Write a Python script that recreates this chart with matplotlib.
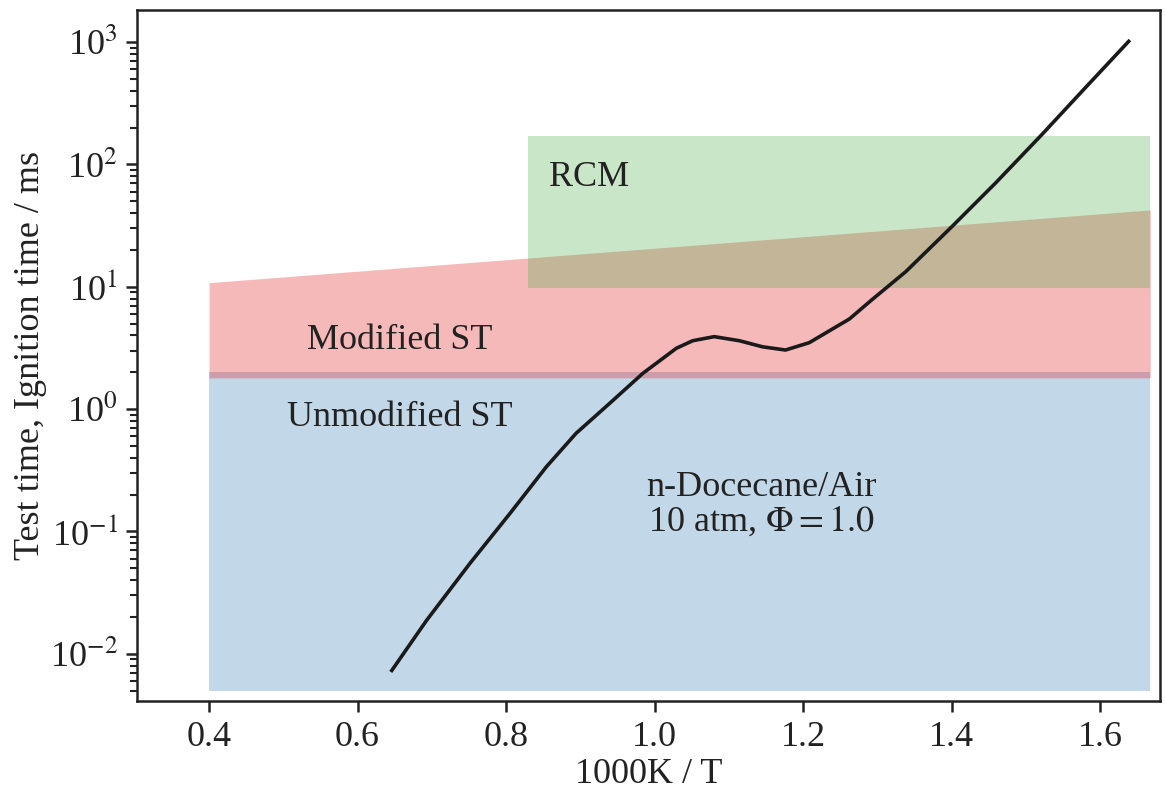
import matplotlib
matplotlib.use('Agg')
import matplotlib.pyplot as plt
from matplotlib.ticker import FuncFormatter, LogLocator
import numpy as np

plt.rcParams['font.family'] = ['Liberation Serif', 'DejaVu Serif']
plt.rcParams['mathtext.fontset'] = 'stix'

# ignition delay curve
inv_T = [0.646, 0.693, 0.751, 0.805, 0.854, 0.894, 0.939, 0.984, 1.029, 1.051,
         1.080, 1.114, 1.145, 1.176, 1.208, 1.262, 1.292, 1.338, 1.400, 1.459,
         1.521, 1.575, 1.638]
tau_ms = [0.0073, 0.0188, 0.0546, 0.14, 0.337, 0.633, 1.11, 1.96, 3.14, 3.62,
          3.91, 3.62, 3.23, 3.04, 3.49, 5.45, 7.8, 13.3, 31, 70.7,
          175, 395, 1014]

# test time regions
unmod_x = [0.4, 1.667]
unmod_lo = [0.005, 0.005]
unmod_hi = [2.0, 2.0]
mod_x = [0.4, 1.667]
mod_lo = [1.8, 1.8]
mod_hi = [10.8, 42.5]
rcm_x = [0.83, 1.667]
rcm_lo = [9.8, 9.8]
rcm_hi = [170, 170]

fig = plt.figure(figsize=(11.65, 7.94), dpi=100)
ax = fig.add_axes([0.1176, 0.117, 0.878, 0.8704])

ax.fill_between(unmod_x, unmod_lo, unmod_hi, color='#377eb8', alpha=0.3, lw=0)
ax.fill_between(mod_x, mod_lo, mod_hi, color='#e41a1c', alpha=0.3, lw=0)
ax.fill_between(rcm_x, rcm_lo, rcm_hi, color='#4daf4a', alpha=0.3, lw=0)

ax.plot(inv_T, tau_ms, color='#1a1a1a', lw=2.6, solid_joinstyle='round')

ax.set_yscale('log')
ax.set_xlim(0.303, 1.68)
ax.set_ylim(0.0041, 1830)
ax.set_xticks([0.4, 0.6, 0.8, 1.0, 1.2, 1.4, 1.6])
ax.xaxis.set_major_formatter(FuncFormatter(lambda v, p: f"{v:.1f}"))
ax.yaxis.set_major_locator(LogLocator(base=10, numticks=12))
ax.yaxis.set_minor_locator(LogLocator(base=10, subs=np.arange(2, 10), numticks=12))
ax.yaxis.set_major_formatter(FuncFormatter(lambda v, p: r"10$^{%d}$" % round(np.log10(v))))

ax.tick_params(axis='both', which='major', direction='out', length=8, width=1.8,
               labelsize=26, top=False, right=False, pad=6, colors='#222222')
ax.tick_params(axis='y', which='minor', direction='out', length=5, width=1.5,
               right=False, colors='#222222')
for s in ax.spines.values():
    s.set_linewidth(1.8)
    s.set_color('#222222')

ax.set_xlabel('1000K / T', fontsize=26, color='#222222', labelpad=3)
ax.set_ylabel('Test time, Ignition time / ms', fontsize=26, color='#222222', labelpad=2)

ax.text(0.858, 78, 'RCM', fontsize=26, va='center', ha='left', color='#222222')
ax.text(0.532, 3.67, 'Modified ST', fontsize=26, va='center', ha='left', color='#222222')
ax.text(0.505, 0.86, 'Unmodified ST', fontsize=26, va='center', ha='left', color='#222222')
ax.text(1.143, 0.164, 'n-Docecane/Air\n10 atm, $\\Phi = 1.0$', fontsize=26,
        va='center', ha='center', color='#222222', linespacing=1.0)

fig.savefig('out.png', dpi=100)
